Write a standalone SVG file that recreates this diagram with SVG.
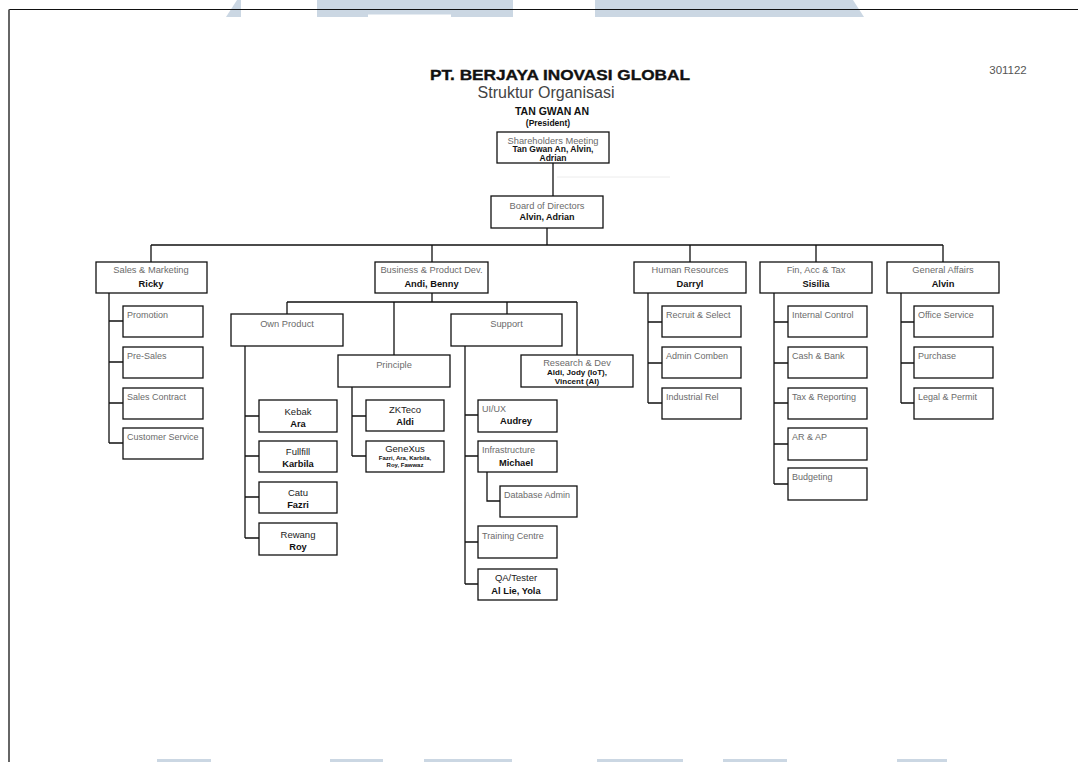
<svg xmlns="http://www.w3.org/2000/svg" width="1078" height="762" viewBox="0 0 1078 762">
<style>
.box{fill:#fff;stroke:#111;stroke-width:1.3}
.ln{fill:none;stroke:#111;stroke-width:1.3}
.wm{fill:#cbd7e3}
.g{font-family:"Liberation Sans",Arial,sans-serif;font-size:9.3px;fill:#6b6b6b}
.s{font-family:"Liberation Sans",Arial,sans-serif;font-size:9px;fill:#6b6b6b}
.r{font-family:"Liberation Sans",Arial,sans-serif;font-size:9.5px;fill:#222}
.b{font-family:"Liberation Sans",Arial,sans-serif;font-size:9.3px;font-weight:bold;fill:#111}
.c{text-anchor:middle}
</style>
<rect width="1078" height="762" fill="#fff"/>
<g id="watermark">
<polygon class="wm" points="237,0 241,0 241,17 226,17"/>
<polygon class="wm" points="317,0 513,0 513,17 451,17 451,14.5 368,14.5 368,17 317,17"/>
<polygon class="wm" points="595,0 853,0 864,17 595,17"/>
<rect class="wm" x="157" y="759" width="54" height="3"/>
<rect class="wm" x="330" y="759" width="53" height="3"/>
<rect class="wm" x="424" y="759" width="88" height="3"/>
<rect class="wm" x="597" y="759" width="86" height="3"/>
<rect class="wm" x="723" y="759" width="64" height="3"/>
<rect class="wm" x="897" y="759" width="50" height="3"/>
</g>
<g id="frame">
<line x1="9" y1="9.5" x2="1078" y2="9.5" stroke="#111" stroke-width="1.2"/>
<line x1="9" y1="9.5" x2="9" y2="762" stroke="#666" stroke-width="2"/>
</g>
<g id="header">
<text x="1008" y="74" font-family="Liberation Sans,Arial,sans-serif" font-size="11.5" fill="#555" text-anchor="middle">301122</text>
<text x="560" y="79.5" font-family="Liberation Sans,Arial,sans-serif" font-size="15" font-weight="bold" fill="#111" stroke="#111" stroke-width="0.35" text-anchor="middle" textLength="260" lengthAdjust="spacingAndGlyphs">PT. BERJAYA INOVASI GLOBAL</text>
<text x="546" y="98" font-family="Liberation Sans,Arial,sans-serif" font-size="16" fill="#444" text-anchor="middle">Struktur Organisasi</text>
<text x="552" y="115" font-family="Liberation Sans,Arial,sans-serif" font-size="10.5" font-weight="bold" fill="#111" text-anchor="middle">TAN GWAN AN</text>
<text x="548" y="125.5" font-family="Liberation Sans,Arial,sans-serif" font-size="8.5" font-weight="bold" fill="#111" text-anchor="middle">(President)</text>
</g>
<g id="connectors">
<path class="ln" d="M553,163V196M547,228V245M151,245H943M151,245V262M432,245V262M690,245V262M816,245V262M943,245V262"/>
<path class="ln" d="M109,293V443M109,321H123M109,362H123M109,403H123M109,443H123"/>
<path class="ln" d="M432,293V302M287,302H577M287,302V314M394,302V355M507,302V314M577,302V355"/>
<path class="ln" d="M245,346V538M245,416H259M245,456H259M245,497H259M245,538H259"/>
<path class="ln" d="M352,387V456M352,416H366M352,456H366"/>
<path class="ln" d="M465,346V584M465,415H478M465,456H478M465,542H478M465,584H478M487,472V501H500"/>
<path class="ln" d="M648,293V403M648,322H662M648,363H662M648,403H662"/>
<path class="ln" d="M774,293V484M774,322H788M774,363H788M774,403H788M774,444H788M774,484H788"/>
<path class="ln" d="M901,293V403M901,322H914M901,363H914M901,403H914"/>
<line x1="557" y1="177" x2="670" y2="177" stroke="#ececec" stroke-width="1"/>
</g>
<g id="shareholders">
<rect class="box" x="497" y="132" width="112" height="31"/>
<text class="g c" x="553" y="143.5">Shareholders Meeting</text>
<text class="b c" x="553" y="152" style="font-size:8.5px">Tan Gwan An, Alvin,</text>
<text class="b c" x="553" y="160.5" style="font-size:8.5px">Adrian</text>
</g>
<g id="board">
<rect class="box" x="491" y="196" width="112" height="32"/>
<text class="g c" x="547" y="208.5">Board of Directors</text>
<text class="b c" x="547" y="219.5" style="font-size:9px">Alvin, Adrian</text>
</g>
<g id="sales">
<rect class="box" x="96" y="262" width="111" height="31"/>
<text class="g c" x="151" y="273">Sales &amp; Marketing</text>
<text class="b c" x="151" y="287">Ricky</text>
</g>
<g id="promotion"><rect class="box" x="123" y="306" width="80" height="31"/><text class="s" x="127" y="318">Promotion</text></g>
<g id="presales"><rect class="box" x="123" y="347" width="80" height="31"/><text class="s" x="127" y="359">Pre-Sales</text></g>
<g id="salescontract"><rect class="box" x="123" y="388" width="80" height="31"/><text class="s" x="127" y="400">Sales Contract</text></g>
<g id="customerservice"><rect class="box" x="123" y="428" width="80" height="31"/><text class="s" x="127" y="440">Customer Service</text></g>
<g id="bizdev">
<rect class="box" x="375" y="262" width="113" height="31"/>
<text class="g c" x="431.5" y="273">Business &amp; Product Dev.</text>
<text class="b c" x="431.5" y="287">Andi, Benny</text>
</g>
<g id="ownproduct"><rect class="box" x="231" y="314" width="112" height="32"/><text class="g c" x="287" y="326.5">Own Product</text></g>
<g id="principle"><rect class="box" x="338" y="355" width="112" height="32"/><text class="g c" x="394" y="367.5">Principle</text></g>
<g id="support"><rect class="box" x="451" y="314" width="111" height="32"/><text class="g c" x="506.5" y="326.5">Support</text></g>
<g id="rnd">
<rect class="box" x="521" y="355" width="112" height="32"/>
<text class="g c" x="577" y="366">Research &amp; Dev</text>
<text class="b c" x="577" y="375" style="font-size:8px">Aldi, Jody (IoT),</text>
<text class="b c" x="577" y="384" style="font-size:8px">Vincent (AI)</text>
</g>
<g id="kebak"><rect class="box" x="259" y="400" width="78" height="32"/><text class="r c" x="298" y="414.5">Kebak</text><text class="b c" x="298" y="426.5">Ara</text></g>
<g id="fullfill"><rect class="box" x="259" y="441" width="78" height="31"/><text class="r c" x="298" y="455">Fullfill</text><text class="b c" x="298" y="467">Karbila</text></g>
<g id="catu"><rect class="box" x="259" y="482" width="78" height="31"/><text class="r c" x="298" y="496">Catu</text><text class="b c" x="298" y="508">Fazri</text></g>
<g id="rewang"><rect class="box" x="259" y="523" width="78" height="32"/><text class="r c" x="298" y="537.5">Rewang</text><text class="b c" x="298" y="549.5">Roy</text></g>
<g id="zkteco"><rect class="box" x="366" y="400" width="78" height="31"/><text class="r c" x="405" y="412.5">ZKTeco</text><text class="b c" x="405" y="425">Aldi</text></g>
<g id="genexus"><rect class="box" x="366" y="441" width="78" height="31"/><text class="r c" x="405" y="451.5">GeneXus</text><text class="b c" x="405" y="459.5" style="font-size:6px">Fazri, Ara, Karbila,</text><text class="b c" x="405" y="466.5" style="font-size:6px">Roy, Fawwaz</text></g>
<g id="uiux"><rect class="box" x="478" y="400" width="79" height="32"/><text class="s" x="482" y="411.5">UI/UX</text><text class="b c" x="516" y="424">Audrey</text></g>
<g id="infra"><rect class="box" x="478" y="441" width="79" height="31"/><text class="s" x="482" y="452.5">Infrastructure</text><text class="b c" x="516" y="466">Michael</text></g>
<g id="dbadmin"><rect class="box" x="500" y="486" width="77" height="31"/><text class="s" x="504" y="498">Database Admin</text></g>
<g id="training"><rect class="box" x="478" y="526" width="79" height="32"/><text class="s" x="482" y="538.5">Training Centre</text></g>
<g id="qa"><rect class="box" x="478" y="569" width="79" height="31"/><text class="r c" x="516" y="580.5">QA/Tester</text><text class="b c" x="516" y="594">Al Lie, Yola</text></g>
<g id="hr">
<rect class="box" x="634" y="262" width="112" height="31"/>
<text class="g c" x="690" y="273">Human Resources</text>
<text class="b c" x="690" y="287">Darryl</text>
</g>
<g id="recruit"><rect class="box" x="662" y="306" width="79" height="31"/><text class="s" x="666" y="318">Recruit &amp; Select</text></g>
<g id="admincomben"><rect class="box" x="662" y="347" width="79" height="31"/><text class="s" x="666" y="359">Admin Comben</text></g>
<g id="industrial"><rect class="box" x="662" y="388" width="79" height="31"/><text class="s" x="666" y="400">Industrial Rel</text></g>
<g id="fin">
<rect class="box" x="760" y="262" width="112" height="31"/>
<text class="g c" x="816" y="273">Fin, Acc &amp; Tax</text>
<text class="b c" x="816" y="287">Sisilia</text>
</g>
<g id="internalcontrol"><rect class="box" x="788" y="306" width="79" height="31"/><text class="s" x="792" y="318">Internal Control</text></g>
<g id="cashbank"><rect class="box" x="788" y="347" width="79" height="31"/><text class="s" x="792" y="359">Cash &amp; Bank</text></g>
<g id="taxreporting"><rect class="box" x="788" y="388" width="79" height="31"/><text class="s" x="792" y="400">Tax &amp; Reporting</text></g>
<g id="arap"><rect class="box" x="788" y="428" width="79" height="32"/><text class="s" x="792" y="440">AR &amp; AP</text></g>
<g id="budgeting"><rect class="box" x="788" y="468" width="79" height="32"/><text class="s" x="792" y="480">Budgeting</text></g>
<g id="ga">
<rect class="box" x="887" y="262" width="112" height="31"/>
<text class="g c" x="943" y="273">General Affairs</text>
<text class="b c" x="943" y="287">Alvin</text>
</g>
<g id="officeservice"><rect class="box" x="914" y="306" width="79" height="31"/><text class="s" x="918" y="318">Office Service</text></g>
<g id="purchase"><rect class="box" x="914" y="347" width="79" height="31"/><text class="s" x="918" y="359">Purchase</text></g>
<g id="legal"><rect class="box" x="914" y="388" width="79" height="31"/><text class="s" x="918" y="400">Legal &amp; Permit</text></g>
</svg>
